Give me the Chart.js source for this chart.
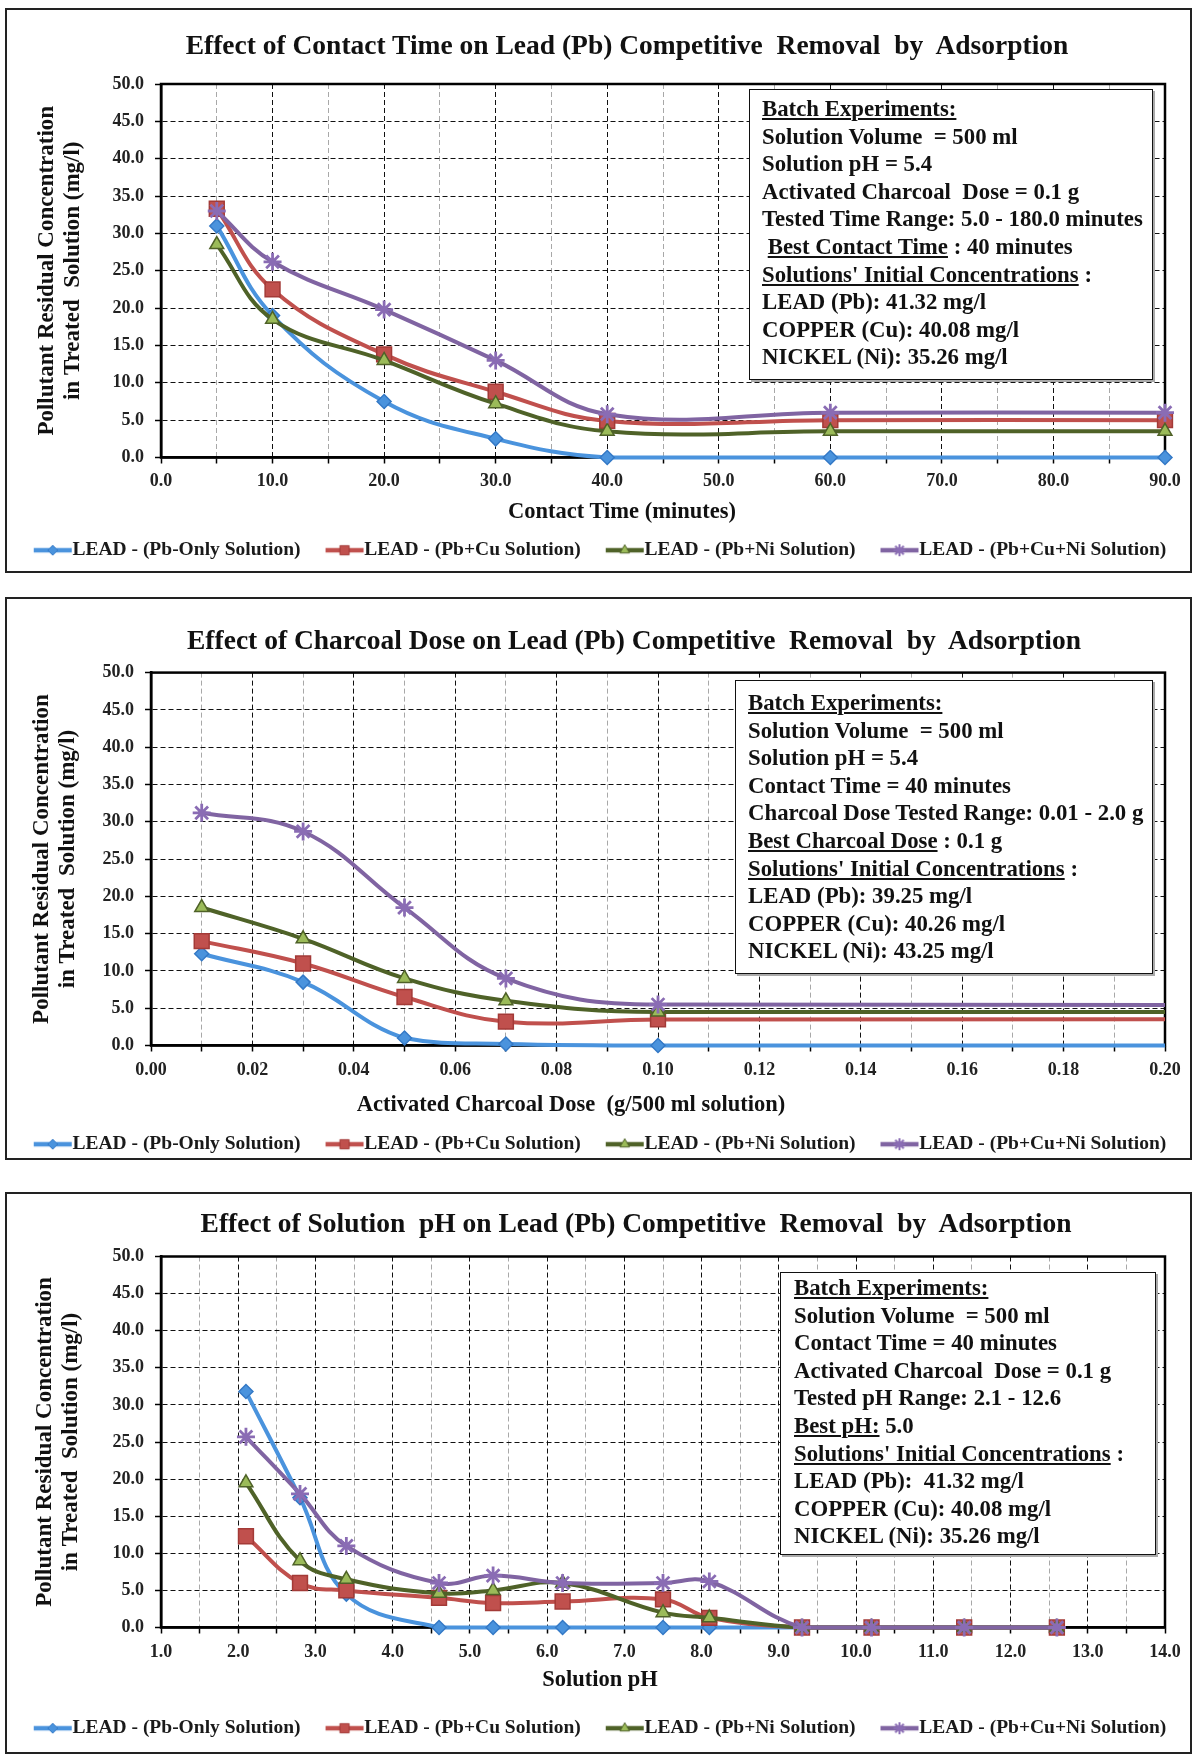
<!DOCTYPE html>
<html>
<head>
<meta charset="utf-8">
<script src="https://cdn.jsdelivr.net/npm/chart.js@4.4.1/dist/chart.umd.min.js"></script>
<style>
html,body{margin:0;padding:0;background:#fff;}
body{width:1193px;height:1754px;position:relative;overflow:hidden;font-family:'Liberation Serif','Times New Roman',serif;font-weight:bold;color:#111;}
.panel{position:absolute;left:5px;width:1183px;border:2px solid #222;z-index:3;pointer-events:none;}
canvas{position:absolute;left:7px;z-index:1;}
.ttl{position:absolute;font-size:27.5px;line-height:32px;white-space:pre;transform:translate(-50%,-50%);z-index:4;}
.xt{position:absolute;font-size:22.5px;line-height:26px;white-space:pre;transform:translate(-50%,-50%);z-index:4;}
.info{position:absolute;box-sizing:border-box;background:#fff;border:1.5px solid #111;z-index:4;font-size:22.8px;line-height:27.6px;white-space:pre;box-shadow:2px 2px 0 #aaa;}
u{text-decoration-thickness:1.5px;text-underline-offset:2px;}
</style>
</head>
<body>
<div class="panel" style="top:8px;height:561px;"></div>
<div class="panel" style="top:597px;height:559px;"></div>
<div class="panel" style="top:1192px;height:558px;"></div>

<canvas id="c1" width="1183" height="560" style="top:10px;"></canvas>
<canvas id="c2" width="1183" height="565" style="top:599px;"></canvas>
<canvas id="c3" width="1183" height="554" style="top:1194px;"></canvas>

<div class="ttl" style="left:627px;top:45px;">Effect of Contact Time on Lead (Pb) Competitive  Removal  by  Adsorption</div>
<div class="ttl" style="left:634px;top:640px;">Effect of Charcoal Dose on Lead (Pb) Competitive  Removal  by  Adsorption</div>
<div class="ttl" style="left:636px;top:1223px;">Effect of Solution  pH on Lead (Pb) Competitive  Removal  by  Adsorption</div>

<div class="xt" style="left:622px;top:511px;">Contact Time (minutes)</div>
<div class="xt" style="left:571px;top:1104px;">Activated Charcoal Dose  (g/500 ml solution)</div>
<div class="xt" style="left:600px;top:1679px;">Solution pH</div>

<div class="info" style="left:749px;top:89px;width:404px;height:291px;padding:5px 0 0 12px;"><u>Batch Experiments:</u>
Solution Volume  = 500 ml
Solution pH = 5.4
Activated Charcoal  Dose = 0.1 g
Tested Time Range: 5.0 - 180.0 minutes
 <u>Best Contact Time</u> : 40 minutes
<u>Solutions' Initial Concentrations</u> :
LEAD (Pb): 41.32 mg/l
COPPER (Cu): 40.08 mg/l
NICKEL (Ni): 35.26 mg/l</div>

<div class="info" style="left:735px;top:680px;width:418px;height:294px;padding:8px 0 0 12px;"><u>Batch Experiments:</u>
Solution Volume  = 500 ml
Solution pH = 5.4
Contact Time = 40 minutes
Charcoal Dose Tested Range: 0.01 - 2.0 g
<u>Best Charcoal Dose</u> : 0.1 g
<u>Solutions' Initial Concentrations</u> :
LEAD (Pb): 39.25 mg/l
COPPER (Cu): 40.26 mg/l
NICKEL (Ni): 43.25 mg/l</div>

<div class="info" style="left:780px;top:1272px;width:376px;height:283px;padding:1px 0 0 13px;"><u>Batch Experiments:</u>
Solution Volume  = 500 ml
Contact Time = 40 minutes
Activated Charcoal  Dose = 0.1 g
Tested pH Range: 2.1 - 12.6
<u>Best pH:</u> 5.0
<u>Solutions' Initial Concentrations</u> :
LEAD (Pb):  41.32 mg/l
COPPER (Cu): 40.08 mg/l
NICKEL (Ni): 35.26 mg/l</div>

<script>
// ---------------- DATA ----------------
const seriesNames = ['LEAD - (Pb-Only Solution)', 'LEAD - (Pb+Cu Solution)', 'LEAD - (Pb+Ni Solution)', 'LEAD - (Pb+Cu+Ni Solution)'];

// Panel 1: contact time (minutes)
const contactTime = [5, 10, 20, 30, 40, 60, 90];
const timePbOnly  = [31.0, 19.0, 7.5, 2.5, 0.0, 0.0, 0.0];
const timePbCu    = [33.3, 22.5, 13.8, 8.8, 4.9, 5.0, 5.0];
const timePbNi    = [28.5, 18.5, 13.0, 7.2, 3.5, 3.5, 3.5];
const timePbCuNi  = [33.0, 26.2, 19.8, 13.0, 5.8, 6.0, 6.0];
const timeTickLabels = ['0.0', '10.0', '20.0', '30.0', '40.0', '50.0', '60.0', '70.0', '80.0', '90.0'];

// Panel 2: activated charcoal dose (g / 500 ml)
const charcoalDose = [0.01, 0.03, 0.05, 0.07, 0.10, 2.0];
const dosePbOnly   = [12.3, 8.5, 1.0, 0.2, 0.0, 0.0];
const dosePbCu     = [14.0, 11.0, 6.5, 3.2, 3.5, 3.5];
const dosePbNi     = [18.5, 14.3, 9.0, 6.0, 4.5, 4.5];
const dosePbCuNi   = [31.2, 28.7, 18.5, 9.0, 5.5, 5.5];
const doseTickLabels = ['0.00', '0.02', '0.04', '0.06', '0.08', '0.10', '0.12', '0.14', '0.16', '0.18', '0.20'];

// Panel 3: solution pH
const solutionPH = [2.1, 2.8, 3.4, 4.6, 5.3, 6.2, 7.5, 8.1, 9.3, 10.2, 11.4, 12.6];
const phPbOnly   = [31.8, 17.5, 4.5, 0.0, 0.0, 0.0, 0.0, 0.0, 0.0, 0.0, 0.0, 0.0];
const phPbCu     = [12.3, 6.0, 5.0, 4.0, 3.3, 3.5, 3.8, 1.3, 0.0, 0.0, 0.0, 0.0];
const phPbNi     = [19.5, 9.0, 6.5, 4.6, 5.0, 6.0, 2.0, 1.3, 0.0, 0.0, 0.0, 0.0];
const phPbCuNi   = [25.7, 18.0, 11.0, 6.0, 7.0, 6.0, 6.0, 6.2, 0.0, 0.0, 0.0, 0.0];
const phTickLabels = ['1.0', '2.0', '3.0', '4.0', '5.0', '6.0', '7.0', '8.0', '9.0', '10.0', '11.0', '12.0', '13.0', '14.0'];

const concTickLabels = ['0.0', '5.0', '10.0', '15.0', '20.0', '25.0', '30.0', '35.0', '40.0', '45.0', '50.0'];
const yTitleLines = ['Pollutant Residual Concentration', 'in Treated  Solution (mg/l)'];

// ---------------- STYLE ----------------
const FONT = "'Liberation Serif', 'Times New Roman', serif";
const STY = [
  {line: '#4a93dd', fill: '#4a93dd', stroke: '#3479c6', shape: 'rectRot', r: 7, bw: 1.5, lr: 5},
  {line: '#c0504d', fill: '#c0504d', stroke: '#a33a37', shape: 'rect', r: 10.5, bw: 1.5, lr: 6.5},
  {line: '#4f6228', fill: '#9bbb59', stroke: '#4f6228', shape: 'triangle', r: 8, bw: 1.5, lr: 5.5},
  {line: '#8064a2', fill: '#8064a2', stroke: '#8a6cb4', shape: 'star', r: 9, bw: 2.8, lr: 6}
];

function drawShape(g, shape, x, y, r) {
  g.beginPath();
  if (shape === 'rectRot') {
    g.moveTo(x, y - r); g.lineTo(x + r, y); g.lineTo(x, y + r); g.lineTo(x - r, y); g.closePath();
  } else if (shape === 'rect') {
    const s = r * Math.SQRT1_2; g.rect(x - s, y - s, 2 * s, 2 * s);
  } else if (shape === 'triangle') {
    g.moveTo(x, y - r); g.lineTo(x + r * 0.866, y + r * 0.5); g.lineTo(x - r * 0.866, y + r * 0.5); g.closePath();
  } else if (shape === 'star') {
    g.moveTo(x - r, y); g.lineTo(x + r, y); g.moveTo(x, y - r); g.lineTo(x, y + r);
    const d = r * Math.SQRT1_2;
    g.moveTo(x - d, y - d); g.lineTo(x + d, y + d); g.moveTo(x - d, y + d); g.lineTo(x + d, y - d);
  }
}

const LEG_FS = 19.5, LEG_BOX = 46;
function legendIcon(st) {
  const W = Math.round(LEG_BOX + LEG_FS), H = 20;
  const c = document.createElement('canvas'); c.width = W; c.height = H;
  const g = c.getContext('2d');
  const x1 = W - 39, x2 = W - 1, cy = H / 2, cx = (x1 + x2) / 2;
  g.strokeStyle = st.line; g.lineWidth = 4.5; g.lineCap = 'butt';
  g.beginPath(); g.moveTo(x1, cy); g.lineTo(x2, cy); g.stroke();
  drawShape(g, st.shape, cx, cy, st.lr);
  if (st.shape === 'star') { g.strokeStyle = st.stroke; g.lineWidth = 2; g.stroke(); }
  else { g.fillStyle = st.fill; g.fill(); g.strokeStyle = st.stroke; g.lineWidth = 1; g.stroke(); }
  return c;
}
const legendIcons = STY.map(legendIcon);

const framePlugin = {
  id: 'plotFrame',
  beforeDatasetsDraw(chart) {
    const {ctx, chartArea: a} = chart;
    ctx.save(); ctx.strokeStyle = '#000'; ctx.lineWidth = 2.5;
    ctx.strokeRect(a.left, a.top, a.right - a.left, a.bottom - a.top);
    ctx.restore();
  }
};

function labelFor(list, v) {
  for (const l of list) { if (Math.abs(parseFloat(l) - v) < 1e-7) return l; }
  return '';
}

const RIGHT_PAD = 14;

function buildChart(id, p) {
  const datasets = p.series.map((ys, i) => ({
    label: seriesNames[i],
    data: p.xs.map((x, j) => ({x: x, y: ys[j]})),
    borderColor: STY[i].line,
    backgroundColor: STY[i].fill,
    pointBackgroundColor: STY[i].fill,
    pointBorderColor: STY[i].stroke,
    pointStyle: STY[i].shape,
    pointRadius: STY[i].r,
    pointHoverRadius: STY[i].r,
    pointBorderWidth: STY[i].bw,
    borderWidth: 4,
    tension: 0.4,
    fill: false,
    order: 3 - i,
    clip: p.clip
  }));
  return new Chart(document.getElementById(id), {
    type: 'line',
    data: {datasets: datasets},
    options: {
      responsive: false,
      animation: false,
      devicePixelRatio: 1,
      layout: {padding: {top: p.top, left: 0, right: RIGHT_PAD, bottom: 0}},
      plugins: {
        title: {display: false},
        tooltip: {enabled: false},
        legend: {
          position: 'bottom',
          labels: {
            usePointStyle: true,
            pointStyleWidth: LEG_BOX,
            padding: 8,
            color: '#1a1a1a',
            font: {size: LEG_FS, weight: 'bold', family: FONT},
            generateLabels: (chart) => chart.data.datasets.map((ds, i) => ({
              text: ds.label, pointStyle: legendIcons[i], fillStyle: 'rgba(0,0,0,0)',
              strokeStyle: 'rgba(0,0,0,0)', lineWidth: 0, hidden: false, datasetIndex: i, fontColor: '#1a1a1a'
            }))
          }
        }
      },
      scales: {
        x: {
          type: 'linear', min: p.xMin, max: p.xMax,
          ticks: {
            stepSize: p.xStep, autoSkip: false, maxRotation: 0, minRotation: 0, padding: p.xPad,
            color: '#222', font: {size: 18, weight: 'bold', family: FONT},
            callback: (v) => labelFor(p.xLabels, v)
          },
          grid: {
            color: (c) => (c.tick && labelFor(p.xLabels, c.tick.value) !== '') ? '#111' : '#a8a8a8',
            lineWidth: 1, tickLength: 6, tickColor: '#000', tickWidth: 1.5, tickBorderDash: []
          },
          border: {display: true, color: '#000', width: 2.5, dash: [5, 3]},
          title: {display: false},
          afterFit: (s) => { s.height = p.axisH; }
        },
        y: {
          min: 0, max: 50,
          ticks: {
            stepSize: 5, padding: 11, color: '#222', font: {size: 18, weight: 'bold', family: FONT},
            callback: (v) => labelFor(concTickLabels, v)
          },
          grid: {color: '#111', lineWidth: 1, tickLength: 6, tickColor: '#000', tickWidth: 1.5, tickBorderDash: []},
          border: {display: true, color: '#000', width: 2.5, dash: [5, 3]},
          title: {
            display: true, text: yTitleLines, color: '#111',
            font: {size: 23, weight: 'bold', family: FONT, lineHeight: '26px'},
            padding: {top: p.yTitlePad, bottom: 0}
          },
          afterFit: (s) => { s.width = p.left; }
        },
        yPad: {
          position: 'right', display: true,
          grid: {display: false, drawTicks: false},
          ticks: {display: false},
          border: {display: false},
          title: {display: false},
          afterFit: (s) => { s.width = 1183 - RIGHT_PAD - p.right; }
        }
      }
    },
    plugins: [framePlugin]
  });
}

buildChart('c1', {
  xs: contactTime, series: [timePbOnly, timePbCu, timePbNi, timePbCuNi],
  xMin: 0, xMax: 90, xStep: 5, xLabels: timeTickLabels,
  top: 74, left: 154, right: 1158, axisH: 75, xPad: 7.5, yTitlePad: 27, clip: false
});
buildChart('c2', {
  xs: charcoalDose, series: [dosePbOnly, dosePbCu, dosePbNi, dosePbCuNi],
  xMin: 0, xMax: 0.2, xStep: 0.01, xLabels: doseTickLabels,
  top: 73.6, left: 144, right: 1158, axisH: 81, xPad: 8.5, yTitlePad: 22.5, clip: {left: 12, top: 12, right: 0, bottom: 12}
});
buildChart('c3', {
  xs: solutionPH, series: [phPbOnly, phPbCu, phPbNi, phPbCuNi],
  xMin: 1, xMax: 14, xStep: 0.5, xLabels: phTickLabels,
  top: 62.5, left: 154, right: 1158, axisH: 83, xPad: 8.5, yTitlePad: 24.8, clip: false
});
</script>
</body>
</html>
